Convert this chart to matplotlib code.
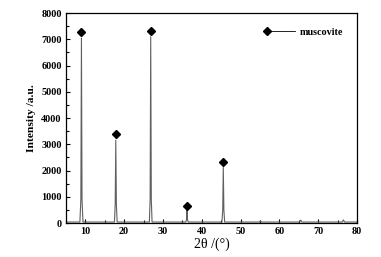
import matplotlib
matplotlib.use("Agg")
import matplotlib.pyplot as plt
from matplotlib.ticker import MultipleLocator
from matplotlib.lines import Line2D
from matplotlib.legend_handler import HandlerLine2D

# XRD trace (2theta, intensity)
two_theta = [5.0, 8.6, 8.85, 9.0, 9.15, 9.4, 17.5, 17.7, 17.85, 18.0, 18.2,
             26.5, 26.7, 26.85, 27.0, 27.2, 35.9, 36.1, 36.2, 36.3, 36.5,
             45.2, 45.4, 45.55, 45.7, 45.9, 54.9, 55.1, 55.3, 65.2, 65.5,
             65.8, 76.2, 76.5, 76.8, 80.0]
intensity = [40, 40, 900, 7050, 900, 40, 40, 700, 3160, 700, 40,
             40, 900, 7100, 900, 40, 40, 150, 500, 150, 40,
             40, 500, 2120, 500, 40, 40, 90, 40, 40, 110,
             40, 40, 120, 40, 40]

# muscovite peak markers
peak_x = [9.0, 17.85, 26.85, 36.2, 45.55]
peak_y = [7270, 3400, 7330, 660, 2320]

xticks = [10, 20, 30, 40, 50, 60, 70, 80]
yticks = [0, 1000, 2000, 3000, 4000, 5000, 6000, 7000, 8000]

serif = ["Liberation Serif", "DejaVu Serif"]


class MarkerLeft(HandlerLine2D):
    # legend handle with the marker at the left end of the line
    def create_artists(self, *args, **kw):
        arts = super().create_artists(*args, **kw)
        for a in arts:
            a.set_markevery([0])
        return arts


fig = plt.figure(figsize=(3.81, 2.57), dpi=100)
ax = fig.add_axes([0.173, 0.132, 0.764, 0.817])

ax.plot(two_theta, intensity, color="#606060", lw=0.8)
ax.plot(peak_x, peak_y, "D", color="black", ms=4.5, ls="none")

ax.set_xlim(5, 80)
ax.set_ylim(0, 8000)
ax.set_xticks(xticks)
ax.set_yticks(yticks)
ax.xaxis.set_minor_locator(MultipleLocator(5))
ax.yaxis.set_minor_locator(MultipleLocator(500))
ax.tick_params(which="both", direction="in", width=0.8)
ax.tick_params(which="major", length=3, pad=3)
ax.tick_params(which="minor", length=2)
for lab in ax.get_xticklabels() + ax.get_yticklabels():
    lab.set_family(serif)
    lab.set_fontweight("bold")
    lab.set_fontsize(7.3)
for s in ax.spines.values():
    s.set_linewidth(0.9)

ax.set_ylabel("Intensity /a.u.", family=serif, fontweight="bold", fontsize=8.2, labelpad=4)
ax.set_xlabel("2\u03b8 /(\u00b0)", family=serif, fontsize=10, labelpad=1)

h = Line2D([], [], color="black", lw=0.6, marker="D", ms=4.5)
leg = ax.legend([h], ["muscovite"], loc="upper right", frameon=False,
                bbox_to_anchor=(0.985, 0.975), handlelength=2.8, handletextpad=0.5,
                numpoints=1, handler_map={h: MarkerLeft()},
                prop={"family": serif, "weight": "bold", "size": 7.3})

fig.savefig("out.png", dpi=100)
